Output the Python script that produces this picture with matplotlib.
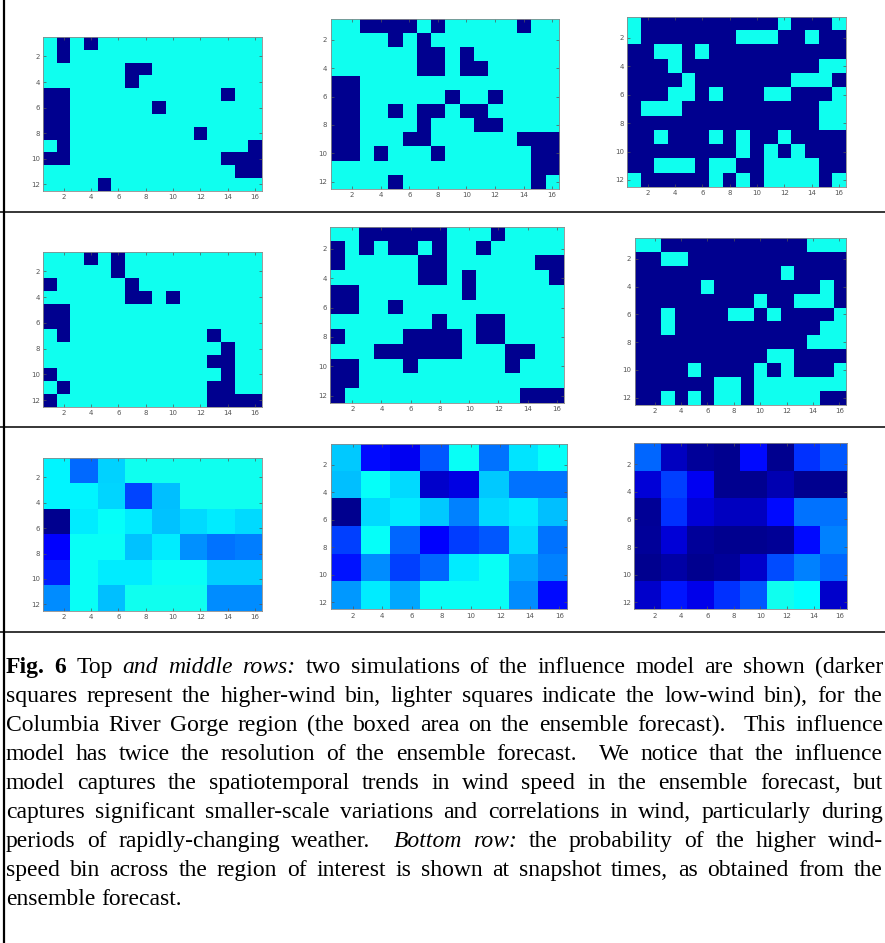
import numpy as np
import matplotlib
matplotlib.use("Agg")
import matplotlib.pyplot as plt
from matplotlib.colors import LinearSegmentedColormap
from matplotlib.lines import Line2D

W, H = 885, 943

# ---------------- data ----------------
# top row: simulation 1 (1 = higher-wind bin, 0 = low-wind bin), 12 rows x 16 cols
sim1_a = [
    [0,1,0,1,0,0,0,0,0,0,0,0,0,0,0,0],
    [0,1,0,0,0,0,0,0,0,0,0,0,0,0,0,0],
    [0,0,0,0,0,0,1,1,0,0,0,0,0,0,0,0],
    [0,0,0,0,0,0,1,0,0,0,0,0,0,0,0,0],
    [1,1,0,0,0,0,0,0,0,0,0,0,0,1,0,0],
    [1,1,0,0,0,0,0,0,1,0,0,0,0,0,0,0],
    [1,1,0,0,0,0,0,0,0,0,0,0,0,0,0,0],
    [1,1,0,0,0,0,0,0,0,0,0,1,0,0,0,0],
    [0,1,0,0,0,0,0,0,0,0,0,0,0,0,0,1],
    [1,1,0,0,0,0,0,0,0,0,0,0,0,1,1,1],
    [0,0,0,0,0,0,0,0,0,0,0,0,0,0,1,1],
    [0,0,0,0,1,0,0,0,0,0,0,0,0,0,0,0],
]
sim1_b = [
    [0,0,1,1,1,1,0,1,0,0,0,0,0,1,0,0],
    [0,0,0,0,1,0,1,0,0,0,0,0,0,0,0,0],
    [0,0,0,0,0,0,1,1,0,1,0,0,0,0,0,0],
    [0,0,0,0,0,0,1,1,0,1,1,0,0,0,0,0],
    [1,1,0,0,0,0,0,0,0,0,0,0,0,0,0,0],
    [1,1,0,0,0,0,0,0,1,0,0,1,0,0,0,0],
    [1,1,0,0,1,0,1,1,0,1,1,0,0,0,0,0],
    [1,1,0,0,0,0,1,0,0,0,1,1,0,0,0,0],
    [1,1,0,0,0,1,1,0,0,0,0,0,0,1,1,1],
    [1,1,0,1,0,0,0,1,0,0,0,0,0,0,1,1],
    [0,0,0,0,0,0,0,0,0,0,0,0,0,0,1,1],
    [0,0,0,0,1,0,0,0,0,0,0,0,0,0,1,0],
]
sim1_c = [
    [0,1,1,1,1,1,1,1,1,1,1,0,1,1,1,0],
    [0,1,1,1,1,1,1,1,0,0,0,1,1,0,1,1],
    [1,1,0,0,1,0,1,1,1,1,1,1,1,1,1,1],
    [1,1,1,0,1,1,1,1,1,1,1,1,1,1,0,0],
    [1,1,1,1,0,1,1,1,1,1,1,1,0,0,0,1],
    [1,1,1,0,0,1,0,1,1,1,0,0,1,1,1,0],
    [1,0,0,0,1,1,1,1,1,1,1,1,1,1,0,0],
    [1,1,1,1,1,1,1,1,1,1,1,1,1,1,0,0],
    [1,1,0,1,1,1,0,1,0,1,1,0,1,1,1,1],
    [1,1,1,1,1,1,1,1,0,1,0,1,0,1,1,1],
    [1,1,0,0,0,1,0,0,1,1,0,0,0,0,1,1],
    [0,1,1,1,1,1,0,1,0,1,0,0,0,0,1,0],
]
# middle row: simulation 2
sim2_a = [
    [0,0,0,1,0,1,0,0,0,0,0,0,0,0,0,0],
    [0,0,0,0,0,1,0,0,0,0,0,0,0,0,0,0],
    [1,0,0,0,0,0,1,0,0,0,0,0,0,0,0,0],
    [0,0,0,0,0,0,1,1,0,1,0,0,0,0,0,0],
    [1,1,0,0,0,0,0,0,0,0,0,0,0,0,0,0],
    [1,1,0,0,0,0,0,0,0,0,0,0,0,0,0,0],
    [0,1,0,0,0,0,0,0,0,0,0,0,1,0,0,0],
    [0,0,0,0,0,0,0,0,0,0,0,0,0,1,0,0],
    [0,0,0,0,0,0,0,0,0,0,0,0,1,1,0,0],
    [1,0,0,0,0,0,0,0,0,0,0,0,0,1,0,0],
    [0,1,0,0,0,0,0,0,0,0,0,0,1,1,0,0],
    [1,0,0,0,0,0,0,0,0,0,0,0,1,1,1,1],
]
sim2_b = [
    [0,0,1,1,1,1,1,1,0,0,0,1,0,0,0,0],
    [1,0,1,0,1,1,0,1,0,0,1,0,0,0,0,0],
    [1,0,0,0,0,0,1,1,0,0,0,0,0,0,1,1],
    [0,0,0,0,0,0,1,1,0,1,0,0,0,0,0,1],
    [1,1,0,0,0,0,0,0,0,1,0,0,0,0,0,0],
    [1,1,0,0,1,0,0,0,0,0,0,0,0,0,0,0],
    [0,0,0,0,0,0,0,1,0,0,1,1,0,0,0,0],
    [1,0,0,0,0,1,1,1,1,0,1,1,0,0,0,0],
    [0,0,0,1,1,1,1,1,1,0,0,0,1,1,0,0],
    [1,1,0,0,0,1,0,0,0,0,0,0,1,0,0,0],
    [1,1,0,0,0,0,0,0,0,0,0,0,0,0,0,0],
    [1,0,0,0,0,0,0,0,0,0,0,0,0,1,1,1],
]
sim2_c = [
    [0,0,1,1,1,1,1,1,1,1,1,1,1,0,0,0],
    [1,1,0,0,1,1,1,1,1,1,1,1,1,1,1,1],
    [1,1,1,1,1,1,1,1,1,1,1,0,1,1,1,1],
    [1,1,1,1,1,0,1,1,1,1,1,1,1,1,0,1],
    [1,1,1,1,1,1,1,1,1,0,1,1,0,0,0,1],
    [1,1,0,1,1,1,1,0,0,1,0,1,1,1,1,0],
    [1,1,0,1,1,1,1,1,1,1,1,1,1,1,0,0],
    [1,1,1,1,1,1,1,1,1,1,1,1,1,0,0,0],
    [1,1,1,1,1,1,1,1,1,1,0,0,1,1,1,1],
    [1,1,1,1,0,1,1,1,1,0,1,0,1,1,1,0],
    [1,1,1,1,1,1,0,0,1,0,0,0,0,0,0,0],
    [1,1,0,1,0,1,0,0,1,0,0,0,0,0,1,1],
]
# bottom row: probability of the higher wind-speed bin (ensemble forecast, 6 x 8 cells)
prob_a = [
    [0.07, 0.43, 0.16, 0.00, 0.00, 0.00, 0.00, 0.00],
    [0.07, 0.07, 0.15, 0.53, 0.21, 0.00, 0.00, 0.00],
    [1.00, 0.09, 0.03, 0.09, 0.20, 0.14, 0.09, 0.14],
    [0.71, 0.02, 0.02, 0.20, 0.09, 0.33, 0.41, 0.38],
    [0.63, 0.02, 0.09, 0.09, 0.02, 0.02, 0.17, 0.17],
    [0.34, 0.02, 0.21, 0.00, 0.00, 0.00, 0.34, 0.34],
]
prob_b = [
    [0.18, 0.68, 0.74, 0.48, 0.02, 0.41, 0.11, 0.03],
    [0.21, 0.03, 0.14, 0.84, 0.78, 0.18, 0.41, 0.41],
    [1.00, 0.14, 0.09, 0.18, 0.37, 0.14, 0.09, 0.21],
    [0.54, 0.03, 0.44, 0.71, 0.55, 0.48, 0.14, 0.41],
    [0.66, 0.34, 0.54, 0.44, 0.09, 0.02, 0.27, 0.37],
    [0.31, 0.09, 0.27, 0.02, 0.02, 0.02, 0.34, 0.68],
]
prob_c = [
    [0.44, 0.87, 0.97, 1.00, 0.68, 1.00, 0.58, 0.48],
    [0.81, 0.54, 0.74, 1.00, 1.00, 0.91, 1.00, 1.00],
    [0.98, 0.58, 0.81, 0.87, 0.87, 0.68, 0.41, 0.41],
    [0.97, 0.81, 0.97, 1.00, 1.00, 0.98, 0.68, 0.37],
    [1.00, 0.94, 1.00, 0.97, 0.84, 0.51, 0.37, 0.44],
    [0.84, 0.65, 0.76, 0.58, 0.48, 0.00, 0.04, 0.84],
]

x_ticks = [2, 4, 6, 8, 10, 12, 14, 16]
y_ticks = [2, 4, 6, 8, 10, 12]

caption_lines = [
    "#Fig. #6 Top *and *middle *rows: two simulations of the influence model are shown (darker",
    "squares represent the higher-wind bin, lighter squares indicate the low-wind bin), for the",
    "Columbia River Gorge region (the boxed area on the ensemble forecast).  This influence",
    "model has twice the resolution of the ensemble forecast.  We notice that the influence",
    "model captures the spatiotemporal trends in wind speed in the ensemble forecast, but",
    "captures significant smaller-scale variations and correlations in wind, particularly during",
    "periods of rapidly-changing weather.  *Bottom *row: the probability of the higher wind-",
    "speed bin across the region of interest is shown at snapshot times, as obtained from the",
    "ensemble forecast.",
]

# ---------------- figure ----------------
cmap = LinearSegmentedColormap.from_list(
    "wind", [(0.0, (0.0625, 1.0, 0.9375)), (1 / 24, (0.0, 1.0, 1.0)),
             (17 / 24, (0.0, 0.0, 1.0)), (1.0, (0.0, 0.0, 0.5625))])

fig = plt.figure(figsize=(W / 100, H / 100), dpi=100)
fig.patch.set_facecolor("white")


def px_axes(x0, y0, x1, y1):
    return fig.add_axes([x0 / W, 1 - y1 / H, (x1 - x0) / W, (y1 - y0) / H])


def draw(ax, data):
    arr = np.array(data, dtype=float)
    ax.imshow(arr, cmap=cmap, vmin=0, vmax=1, extent=(0.5, 16.5, 12.5, 0.5),
              aspect="auto", interpolation="nearest")
    ax.set_xlim(0.5, 16.5)
    ax.set_ylim(12.5, 0.5)
    ax.set_xticks(x_ticks)
    ax.set_yticks(y_ticks)
    ax.tick_params(direction="in", length=2.5, width=0.5, labelsize=5,
                   colors="#555555", top=True, right=True, pad=2.5)
    for s in ax.spines.values():
        s.set_color("#8a8a8a")
        s.set_linewidth(0.6)


panels = [
    (sim1_a, (43.3, 37.3, 261.7, 190.7)),
    (sim1_b, (330.7, 18.7, 559.3, 188.7)),
    (sim1_c, (627.3, 16.7, 846.0, 187.0)),
    (sim2_a, (43.3, 252.0, 261.7, 406.7)),
    (sim2_b, (330.3, 227.0, 564.3, 403.0)),
    (sim2_c, (634.7, 238.0, 846.0, 404.7)),
    (prob_a, (43.3, 458.3, 261.7, 610.7)),
    (prob_b, (330.7, 444.0, 566.7, 609.3)),
    (prob_c, (634.3, 443.3, 846.7, 609.3)),
]
for data, box in panels:
    draw(px_axes(*box), data)

# table borders
def hline(y, lw=1.1):
    fig.add_artist(Line2D([0, 1], [1 - y / H, 1 - y / H], transform=fig.transFigure,
                          color="black", lw=lw))

hline(212)
hline(427)
hline(632)
fig.add_artist(Line2D([4 / W, 4 / W], [0, 1], transform=fig.transFigure,
                      color="black", lw=1.6))

# caption (justified)
fs = 17
left_px, right_px = 6.0, 883.0
base0, lead = 673.0, 29.0
renderer = fig.canvas.get_renderer()
space_px = 0.25 * fs * 100 / 72

for li, line in enumerate(caption_lines):
    toks = line.split(" ")
    items = []
    for tok in toks:
        style = "n"
        if tok.startswith("#"):
            style, tok = "b", tok[1:]
        elif tok.startswith("*"):
            style, tok = "i", tok[1:]
        if tok == "":
            items.append((None, 0.0))
            continue
        t = fig.text(0, 0, tok, fontsize=fs, family="Liberation Serif",
                     fontweight="bold" if style == "b" else "normal",
                     fontstyle="italic" if style == "i" else "normal",
                     va="baseline", ha="left", color="black")
        w = t.get_window_extent(renderer).width
        items.append((t, w))
    total = sum(w for _, w in items)
    ngaps = len(items) - 1
    if li < len(caption_lines) - 1 and ngaps > 0:
        gap = (right_px - left_px - total) / ngaps
    else:
        gap = space_px
    x = left_px
    yb = 1 - (base0 + li * lead) / H
    for t, w in items:
        if t is not None:
            t.set_position((x / W, yb))
        x += w + gap

fig.savefig("out.png", dpi=100)
